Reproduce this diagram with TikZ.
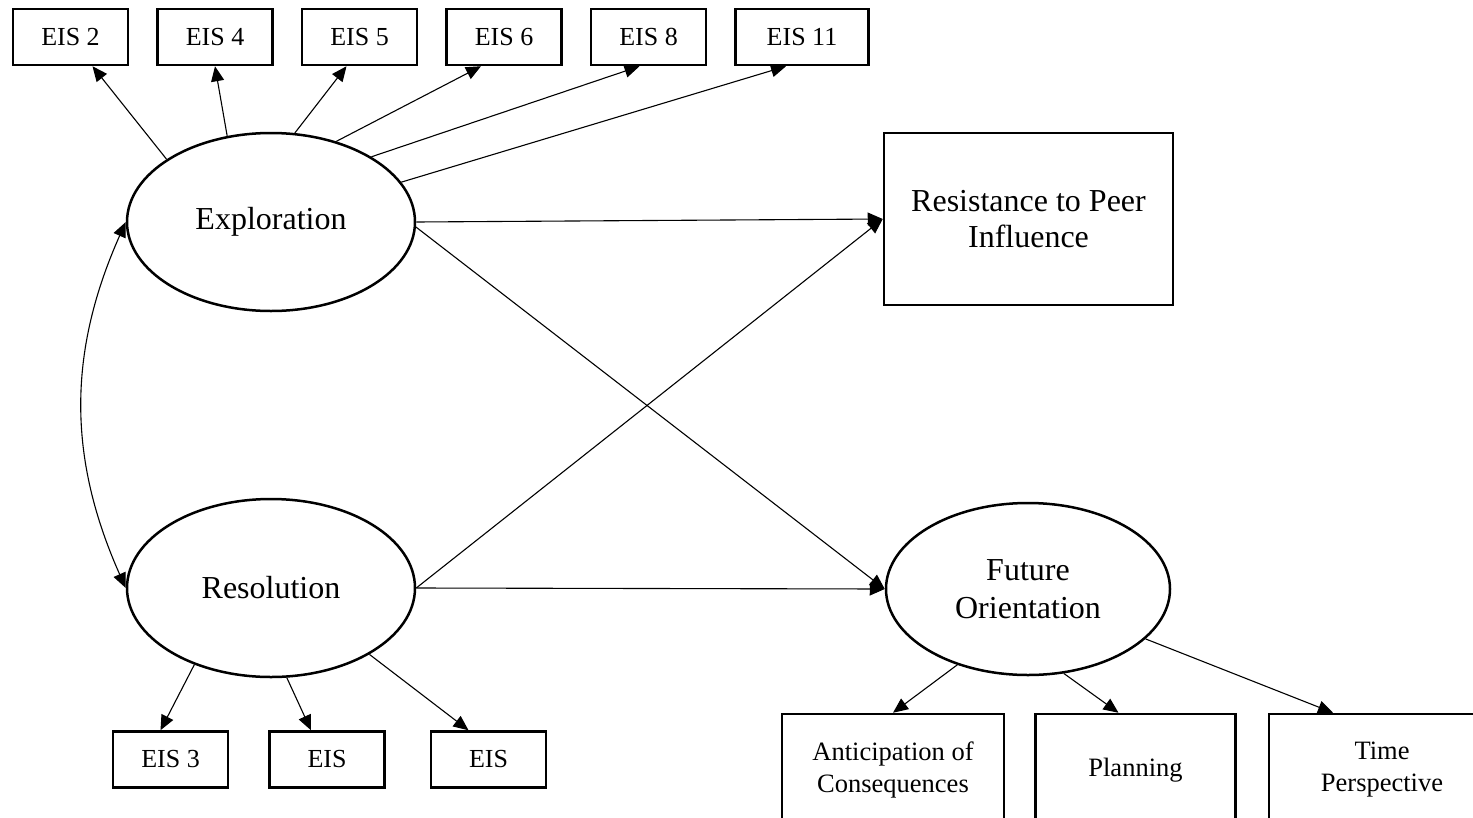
\documentclass[tikz,border=0pt]{standalone}
\usepackage{fontspec}
\setmainfont{Liberation Serif}
\usetikzlibrary{positioning, shapes.geometric, arrows.meta}
\tikzstyle{item} = [rectangle, draw=black, line width=2.5pt, minimum width=115pt, minimum height=56pt, inner sep=0pt, text centered, font=\fontsize{26}{30}\selectfont]
\tikzstyle{factor} = [ellipse, draw=black, line width=2.5pt, minimum width=288pt, minimum height=178pt, inner sep=0pt, align=center, font=\fontsize{32}{38}\selectfont]
\tikzstyle{outcome} = [rectangle, draw=black, line width=2.5pt, minimum width=289pt, minimum height=172pt, inner sep=0pt, align=center, font=\fontsize{32}{36}\selectfont]
\tikzstyle{facet} = [rectangle, draw=black, line width=2.5pt, minimum height=112pt, inner sep=0pt, align=center, font=\fontsize{26.5}{32}\selectfont]
\tikzstyle{arrow} = [line width=1.1pt,-{Triangle[length=15pt,width=13pt]}]
\tikzstyle{both} = [line width=1.1pt,{Triangle[length=15pt,width=13pt]}-{Triangle[length=15pt,width=13pt]}]

\begin{document}
\begin{tikzpicture}[x=1pt, y=-1pt, node distance=27pt]
        \useasboundingbox (0,0) rectangle (1473,817);
        \clip (0,0) rectangle (1473,817);

        % latent factors
        \node[factor]                                          (explore) at (271,222)  {Exploration};
        \node[factor]                                          (resolve) at (271,588)  {Resolution};
        \node[factor, minimum width=284pt, minimum height=172pt] (future) at (1028,589) {Future\\Orientation};
        \node[outcome]                                         (peer)    at (1028.5,219) {Resistance to Peer\\Influence};

        % exploration items
        \node[item]                                            (eis 2)   at (70.5,37)  {EIS 2};
        \node[item, right=of eis 2]                            (eis 4)   {EIS 4};
        \node[item, right=of eis 4]                            (eis 5)   {EIS 5};
        \node[item, right=of eis 5]                            (eis 6)   {EIS 6};
        \node[item, right=of eis 6]                            (eis 8)   {EIS 8};
        \node[item, right=of eis 8, minimum width=133pt]       (eis 11)  {EIS 11};

        % resolution items
        \node[item]                                            (eis 3)   at (170.5,759.5) {EIS 3};
        \node[item, right=39pt of eis 3]                       (eis b)   {EIS};
        \node[item, right=44pt of eis b]                       (eis c)   {EIS};

        % future orientation facets
        \node[facet, minimum width=222pt]                      (antic)   at (893,770) {Anticipation of\\Consequences};
        \node[facet, minimum width=200pt, right=29pt of antic] (plan)    {Planning};
        \node[facet, minimum width=226pt, right=31pt of plan]  (time)    {Time\\Perspective};

        \draw[arrow] (explore.149) -- ([xshift=22pt]eis 2.south);
        \draw[arrow] (explore.117) -- (eis 4.south);
        \draw[arrow] (explore.75)  -- ([xshift=-13pt]eis 5.south);
        \draw[arrow] (explore.51)  -- ([xshift=-23pt]eis 6.south);
        \draw[arrow] (explore.33)  -- ([xshift=-9pt]eis 8.south);
        \draw[arrow] (explore.17)  -- ([xshift=-16pt]eis 11.south);

        \draw[arrow] (explore.east) -- (peer.west);
        \draw[arrow] (explore.-2)   -- (future.west);
        \draw[arrow] (resolve.east) -- (peer.west);
        \draw[arrow] (resolve.east) -- (future.west);
        \draw[both]  (explore.west) to[bend right=24] (resolve.west);

        \draw[arrow] (resolve.-135) -- ([xshift=-10pt]eis 3.north);
        \draw[arrow] (resolve.-80)  -- ([xshift=-16pt]eis b.north);
        \draw[arrow] (resolve.-34)  -- ([xshift=-20pt]eis c.north);

        \draw[arrow] (future.-133) -- (antic.north);
        \draw[arrow] (future.-67)  -- ([xshift=-17pt]plan.north);
        \draw[arrow] (future.-23)  -- ([xshift=-49pt]time.north);
    \end{tikzpicture}
\end{document}
